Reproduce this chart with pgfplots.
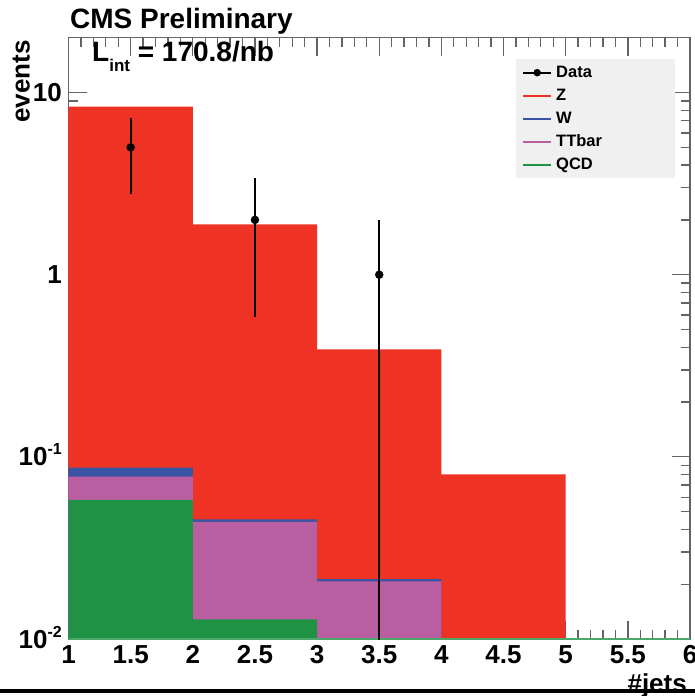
\documentclass[border=0pt]{standalone}
\usepackage{pgfplots}
\pgfplotsset{compat=1.18}
\usepackage{fontspec}
\setmainfont{Liberation Sans}

\definecolor{zred}{RGB}{238,51,36}
\definecolor{wblue}{RGB}{58,84,164}
\definecolor{ttpink}{RGB}{186,94,162}
\definecolor{qcdgreen}{RGB}{31,146,70}
\definecolor{legendgray}{RGB}{240,240,240}
\definecolor{framegray}{RGB}{100,100,100}

\newcommand{\bigfont}{\fontsize{26}{30}\selectfont\bfseries}
\newcommand{\titlefont}{\fontsize{28}{32}\selectfont\bfseries}
\newcommand{\expo}[1]{\raisebox{0.42em}{\fontsize{16}{16}\selectfont #1}}

\begin{document}
\begin{tikzpicture}[x=1pt,y=1pt]
\path[use as bounding box] (0,0) rectangle (695,696);
\begin{axis}[
  at={(68.5pt,57pt)}, anchor=south west, scale only axis,
  width=621.5pt, height=601.3pt,
  xmin=1, xmax=6, ymin=0.01, ymax=20,
  ymode=log, log origin y=infty,
  xtick={1,1.5,2,2.5,3,3.5,4,4.5,5,5.5,6},
  xticklabels={1,1.5,2,2.5,3,3.5,4,4.5,5,5.5,6},
  minor x tick num=4,
  ytick={0.01,0.1,1,10},
  yticklabels={10\expo{-2},10\expo{-1},1,10},
  minor ytick={0.02,0.03,0.04,0.05,0.06,0.07,0.08,0.09,
               0.2,0.3,0.4,0.5,0.6,0.7,0.8,0.9,
               2,3,4,5,6,7,8,9,20},
  tick align=inside,
  major tick length=18pt, minor tick length=9pt,
  every tick/.style={framegray, line width=1.3pt},
  axis line style={framegray, line width=1.5pt},
  xticklabel style={font=\bigfont, anchor=north, inner sep=0pt, yshift=-6pt},
  yticklabel style={font=\bigfont, anchor=base east, inner sep=0pt, xshift=-6.5pt, yshift=-9pt},
  legend cell align=left,
  legend style={at={(0.72,0.9646)}, anchor=north west,
    fill=legendgray, draw=none, inner xsep=6pt, inner ysep=6pt,
    row sep=8pt,
    font=\fontsize{16.5}{19}\selectfont\bfseries,
    nodes={text width=109pt, inner xsep=4pt, inner ysep=0pt,
           text height=12pt, text depth=3pt}},
]
% stacked histograms: each layer is the cumulative sum of the ones below it
\addplot[ybar interval, fill=zred, draw=none, forget plot]
  coordinates {(1,8.38) (2,1.89) (3,0.389) (4,0.080) (5,0.080)};
\addplot[ybar interval, fill=wblue, draw=none, forget plot]
  coordinates {(1,0.0873) (2,0.0454) (3,0.0213) (4,0.0213)};
\addplot[ybar interval, fill=ttpink, draw=none, forget plot]
  coordinates {(1,0.0778) (2,0.0439) (3,0.0207) (4,0.0207)};
\addplot[ybar interval, fill=qcdgreen, draw=none, forget plot]
  coordinates {(1,0.058) (2,0.0128) (3,0.0128)};
% empty QCD bins sit on the lower frame edge
\draw[qcdgreen!80, line width=1.5pt] (rel axis cs:0,0) -- (rel axis cs:1,0);

% data with Poisson errors
\addplot[black, only marks, mark=*, mark size=4pt, forget plot,
  error bars/.cd, y dir=both, y explicit,
  error bar style={line width=2pt}, error mark=none]
  coordinates {(1.5,5) +- (0,2.236)
               (2.5,2) +- (0,1.414)
               (3.5,1) += (0,1) -= (0,0.9999)};

\addlegendimage{legend image code/.code={
  \draw[black, line width=2pt] (0pt,0pt) -- (28pt,0pt);
  \fill[black] (14pt,0pt) circle (3.5pt);}}
\addlegendentry{Data}
\addlegendimage{legend image code/.code={\draw[zred, line width=2pt] (0pt,0pt) -- (28pt,0pt);}}
\addlegendentry{Z}
\addlegendimage{legend image code/.code={\draw[wblue, line width=2pt] (0pt,0pt) -- (28pt,0pt);}}
\addlegendentry{W}
\addlegendimage{legend image code/.code={\draw[ttpink, line width=2pt] (0pt,0pt) -- (28pt,0pt);}}
\addlegendentry{TTbar}
\addlegendimage{legend image code/.code={\draw[qcdgreen, line width=2pt] (0pt,0pt) -- (28pt,0pt);}}
\addlegendentry{QCD}
\end{axis}

\node[anchor=base west, inner sep=0pt, font=\titlefont] at (70,667.7) {CMS Preliminary};
\node[anchor=base west, inner sep=0pt, font=\titlefont] at (92,634.3)
  {L\raisebox{-0.36em}{\fontsize{17}{17}\selectfont int} = 170.8/nb};
\node[rotate=90, anchor=base east, inner sep=0pt, font=\bigfont] at (29.5,656) {events};
\node[anchor=base east, inner sep=0pt, font=\bigfont] at (687,3) {\#jets};
\fill[black] (0,3.3) rectangle (695,6.7);
\end{tikzpicture}
\end{document}
